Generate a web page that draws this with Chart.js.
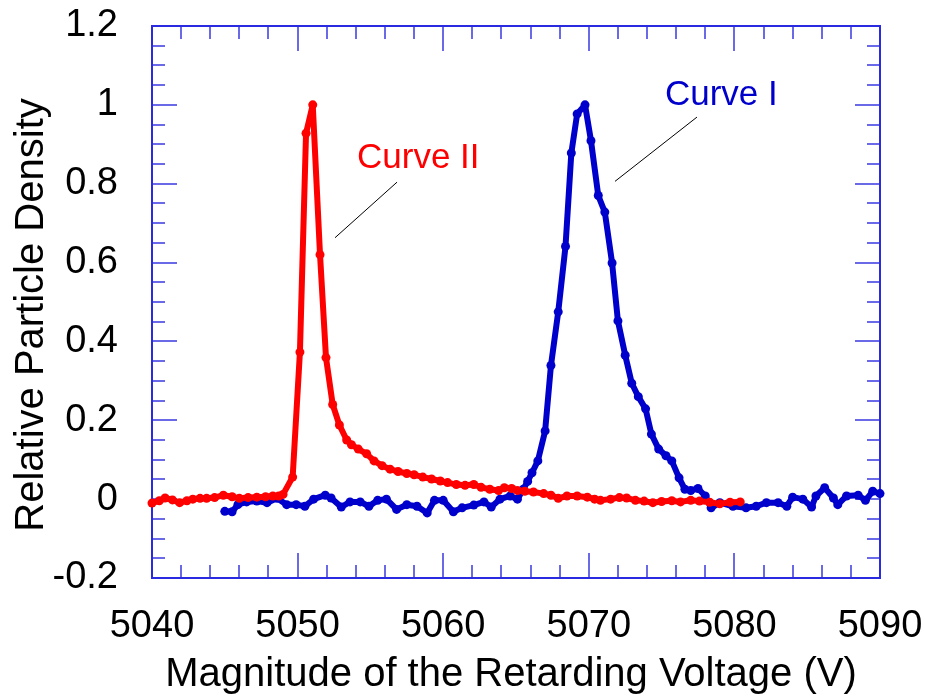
<!DOCTYPE html>
<html>
<head>
<meta charset="utf-8">
<script src="https://cdn.jsdelivr.net/npm/chart.js@4.4.0/dist/chart.umd.min.js"></script>
<style>
  html,body{margin:0;padding:0;background:#fff;}
  #wrap{width:925px;height:700px;}
</style>
</head>
<body>
<div id="wrap"><canvas id="grafico" width="925" height="700"></canvas></div>
<script>
// Curve II (red)
const redVoltage=[5040.0,5040.5,5040.9,5041.4,5041.9,5042.4,5042.8,5043.3,5043.75,5044.3,5044.9,5045.5,5046.0,5046.6,5047.2,5047.8,5048.3,5048.7,5049.0,5049.66,5050.16,5050.58,5051.04,5051.54,5051.95,5052.41,5052.87,5053.37,5053.7,5054.17,5054.74,5055.25,5055.8,5056.35,5056.9,5057.5,5058.0,5058.6,5059.2,5059.8,5060.3,5060.9,5061.5,5062.1,5062.6,5063.2,5063.8,5064.2,5064.7,5065.1,5065.6,5066.2,5066.9,5067.4,5067.9,5068.5,5069.2,5069.9,5070.4,5070.8,5071.5,5072.1,5072.6,5073.2,5073.8,5074.4,5075.0,5075.7,5076.3,5077.0,5077.6,5078.3,5079.0,5079.7,5080.4];
const redDensity=[-0.01,-0.004,0.003,-0.002,-0.009,-0.004,0.0,0.002,0.002,0.004,0.01,0.006,0.002,0.004,0.005,0.006,0.008,0.008,0.012,0.056,0.373,0.928,1.0,0.62,0.359,0.24,0.188,0.15,0.138,0.127,0.115,0.097,0.085,0.076,0.07,0.065,0.062,0.056,0.051,0.046,0.042,0.037,0.035,0.037,0.03,0.025,0.022,0.029,0.027,0.022,0.02,0.018,0.014,0.01,0.002,0.008,0.008,0.005,0.0,-0.003,0.0,0.004,0.003,-0.003,-0.005,-0.009,-0.006,-0.004,-0.007,-0.003,-0.005,-0.008,-0.012,-0.008,-0.007];

// Curve I (blue)
const blueVoltage=[5045.0,5045.5,5045.9,5046.5,5047.2,5047.9,5048.6,5049.25,5049.9,5050.5,5051.1,5051.9,5052.3,5053.0,5053.6,5054.3,5054.9,5055.5,5056.1,5056.8,5057.5,5058.2,5058.9,5059.4,5060.0,5060.7,5061.3,5062.1,5062.8,5063.3,5063.9,5064.6,5065.1,5065.5,5065.8,5066.1,5066.5,5067.0,5067.4,5067.9,5068.4,5068.8,5069.2,5069.74,5070.15,5070.65,5071.1,5071.6,5072.0,5072.5,5072.95,5073.4,5073.9,5074.3,5074.8,5075.3,5075.7,5076.2,5076.6,5077.0,5077.5,5078.0,5078.4,5079.0,5079.9,5080.8,5081.5,5082.2,5083.0,5083.6,5084.0,5084.7,5085.3,5085.6,5086.2,5086.8,5087.1,5087.7,5088.5,5089.0,5089.5,5090.0];
const blueDensity=[-0.031,-0.032,-0.014,-0.007,-0.005,-0.009,0.002,-0.014,-0.014,-0.018,0.0,0.01,0.003,-0.02,-0.007,-0.007,-0.018,-0.003,0.0,-0.026,-0.014,-0.018,-0.035,-0.003,-0.003,-0.032,-0.022,-0.015,-0.007,-0.02,0.0,0.008,0.0,0.025,0.045,0.067,0.097,0.173,0.339,0.475,0.641,0.878,0.977,1.0,0.909,0.77,0.728,0.599,0.452,0.365,0.294,0.26,0.229,0.165,0.127,0.11,0.097,0.054,0.025,0.022,0.027,0.008,-0.022,-0.009,-0.018,-0.022,-0.018,-0.009,-0.009,-0.018,0.005,0.0,-0.02,0.008,0.029,0.003,-0.014,0.008,0.01,-0.003,0.02,0.014];

const xMin=5040, xMax=5090, xStep=10, xMinorPerMajor=5;
const yMin=-0.2, yMax=1.2, yStep=0.2, yMinorPerMajor=4;

const xTitle="Magnitude of the Retarding Voltage (V)";
const yTitle="Relative Particle Density";

// annotations: label text, colour, text position and leader line (data units)
const labelTexts=["Curve II","Curve I"];
const labelColors=["#ff0000","#0000cc"];
const labelPos=[[5054.08,0.84],[5075.23,1.0]];
const leaderLines=[[[5052.57,0.663],[5056.83,0.804]],[[5071.8,0.806],[5077.43,0.969]]];

const FONT="'Liberation Sans', Arial, sans-serif";

const toPoints=(xs,ys)=>xs.map((x,i)=>({x:x,y:ys[i]}));

const marcoPlugin={
    id:'marco',
    beforeDatasetsDraw(chart){
        const ctx=chart.ctx;
        const a=chart.chartArea;
        const xs=chart.scales.x, ys=chart.scales.y;
        ctx.save();
        ctx.strokeStyle='#6a6ae8';
        ctx.lineWidth=2;
        ctx.beginPath();
        // x ticks (bottom and top)
        const nx=Math.round((xMax-xMin)/xStep*xMinorPerMajor);
        for(let i=1;i<nx;i++){
            const v=xMin+i*xStep/xMinorPerMajor;
            const px=Math.round(xs.getPixelForValue(v));
            const len=(i%xMinorPerMajor==0)?25:13;
            ctx.moveTo(px,a.bottom);ctx.lineTo(px,a.bottom-len);
            ctx.moveTo(px,a.top);ctx.lineTo(px,a.top+len);
        }
        const ny=Math.round((yMax-yMin)/yStep*yMinorPerMajor);
        for(let i=1;i<ny;i++){
            const v=yMin+i*yStep/yMinorPerMajor;
            const py=Math.round(ys.getPixelForValue(v));
            const len=(i%yMinorPerMajor==0)?25:13;
            ctx.moveTo(a.left,py);ctx.lineTo(a.left+len,py);
            ctx.moveTo(a.right,py);ctx.lineTo(a.right-len,py);
        }
        ctx.stroke();
        ctx.strokeStyle='#2a2ae0';
        ctx.lineWidth=2;
        ctx.strokeRect(a.left,a.top,a.right-a.left,a.bottom-a.top);
        ctx.restore();
    },
    afterDraw(chart){
        const ctx=chart.ctx;
        const xs=chart.scales.x, ys=chart.scales.y;
        ctx.save();
        // leader lines
        ctx.strokeStyle='#000';
        ctx.lineWidth=1;
        leaderLines.forEach(l=>{
            ctx.beginPath();
            ctx.moveTo(xs.getPixelForValue(l[0][0]),ys.getPixelForValue(l[0][1]));
            ctx.lineTo(xs.getPixelForValue(l[1][0]),ys.getPixelForValue(l[1][1]));
            ctx.stroke();
        });
        ctx.font='35px '+FONT;
        ctx.textAlign='left';
        ctx.textBaseline='alphabetic';
        labelTexts.forEach((t,i)=>{
            ctx.fillStyle=labelColors[i];
            ctx.fillText(t,xs.getPixelForValue(labelPos[i][0]),ys.getPixelForValue(labelPos[i][1]));
        });
        // axis titles
        ctx.fillStyle='#000';
        ctx.font='40px '+FONT;
        ctx.textAlign='center';
        ctx.fillText(xTitle,511,686);
        ctx.translate(43,315);
        ctx.rotate(-Math.PI/2);
        ctx.fillText(yTitle,0,0);
        ctx.restore();
    }
};

let ctx=document.getElementById("grafico");
new Chart(ctx,{
    type:'scatter',
    data:{
        datasets:[{
            label:'Curve II',
            data:toPoints(redVoltage,redDensity),
            showLine:true,
            borderColor:'#ff0000',
            backgroundColor:'#ff0000',
            borderWidth:6,
            borderJoinStyle:'round',
            borderCapStyle:'round',
            pointRadius:4.5,
            pointBorderWidth:0,
            clip:false
        },{
            label:'Curve I',
            data:toPoints(blueVoltage,blueDensity),
            showLine:true,
            borderColor:'#0000cc',
            backgroundColor:'#0000cc',
            borderWidth:6,
            borderJoinStyle:'round',
            borderCapStyle:'round',
            pointRadius:4.5,
            pointBorderWidth:0,
            clip:false
        }]
    },
    options:{
        responsive:false,
        animation:false,
        maintainAspectRatio:false,
        layout:{padding:{left:0,right:45,top:26,bottom:0}},
        plugins:{legend:{display:false},tooltip:{enabled:false}},
        scales:{
            x:{
                type:'linear',
                min:xMin,max:xMax,
                grid:{display:false},
                border:{display:false},
                afterFit:s=>{s.height=122;s.paddingLeft=0;s.paddingRight=0;},
                ticks:{
                    stepSize:xStep,
                    padding:18,
                    color:'#000',
                    font:{family:FONT,size:38},
                    maxRotation:0,
                    callback:v=>String(v)
                }
            },
            y:{
                min:yMin,max:yMax,
                grid:{display:false},
                border:{display:false},
                afterFit:s=>{s.width=152;s.paddingTop=0;s.paddingBottom=0;},
                ticks:{
                    stepSize:yStep,
                    padding:26,
                    color:'#000',
                    font:{family:FONT,size:38},
                    callback:v=>String(Number(v.toFixed(1)))
                }
            }
        }
    },
    plugins:[marcoPlugin]
});
</script>
</body>
</html>
